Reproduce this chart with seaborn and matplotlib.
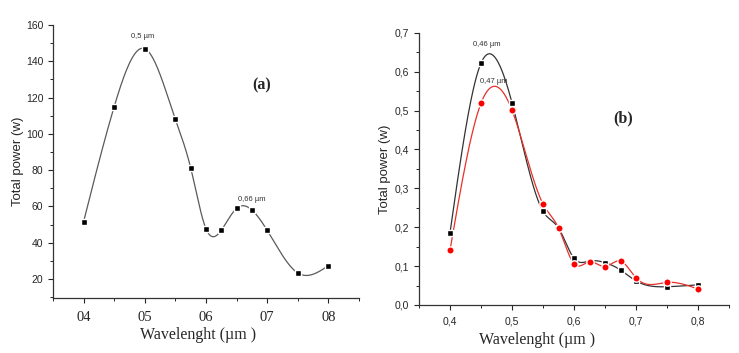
import numpy as np
import pandas as pd
import matplotlib
matplotlib.use("Agg")
import matplotlib.pyplot as plt
from matplotlib.ticker import MultipleLocator, FixedLocator
import seaborn as sns

# Datos
longitud_onda = [0.40, 0.45, 0.50, 0.55, 0.575, 0.60, 0.625, 0.65, 0.675, 0.70, 0.75, 0.80]
potencia_a = [51.5, 115, 147, 108, 81.3, 47.7, 46.8, 58.9, 58.0, 46.8, 23.3, 27.3]
potencia_b_negro = [0.186, 0.622, 0.520, 0.241, 0.198, 0.120, 0.113, 0.109, 0.090, 0.062, 0.047, 0.052]
potencia_b_rojo = [0.141, 0.519, 0.501, 0.260, 0.198, 0.106, 0.111, 0.099, 0.113, 0.070, 0.058, 0.041]

ticks_x_a = [0.4, 0.5, 0.6, 0.7, 0.8]
etiquetas_x_a = ["04", "05", "06", "07", "08"]
ticks_y_a = [20, 40, 60, 80, 100, 120, 140, 160]
ticks_x_b = [0.4, 0.5, 0.6, 0.7, 0.8]
etiquetas_x_b = ["0,4", "0,5", "0,6", "0,7", "0,8"]
ticks_y_b = [0.0, 0.1, 0.2, 0.3, 0.4, 0.5, 0.6, 0.7]
etiquetas_y_b = ["0,0", "0,1", "0,2", "0,3", "0,4", "0,5", "0,6", "0,7"]


# Spline cubico natural para dibujar la curva suave entre los puntos
def spline_natural(x, y, n=400):
    x = np.asarray(x, float)
    y = np.asarray(y, float)
    k = len(x)
    h = np.diff(x)
    A = np.zeros((k, k))
    r = np.zeros(k)
    A[0, 0] = 1
    A[-1, -1] = 1
    for i in range(1, k - 1):
        A[i, i - 1] = h[i - 1]
        A[i, i] = 2 * (h[i - 1] + h[i])
        A[i, i + 1] = h[i]
        r[i] = 6 * ((y[i + 1] - y[i]) / h[i] - (y[i] - y[i - 1]) / h[i - 1])
    m = np.linalg.solve(A, r)
    xs = np.linspace(x[0], x[-1], n)
    idx = np.clip(np.searchsorted(x, xs) - 1, 0, k - 2)
    x0, x1 = x[idx], x[idx + 1]
    hh = x1 - x0
    a = (x1 - xs) / hh
    b = (xs - x0) / hh
    ys = a * y[idx] + b * y[idx + 1] + ((a**3 - a) * m[idx] + (b**3 - b) * m[idx + 1]) * hh**2 / 6
    return pd.DataFrame({"x": xs, "y": ys})


sns.set_style("ticks")
plt.rcParams["font.family"] = ["Liberation Sans", "DejaVu Sans"]
serif = ["Liberation Serif", "DejaVu Serif"]

fig = plt.figure(figsize=(7.39, 3.53), dpi=100)
ax1 = fig.add_axes([0.0717, 0.156, 0.414, 0.773])
ax2 = fig.add_axes([0.567, 0.136, 0.4195, 0.771])

# Panel (a)
df_a = pd.DataFrame({"x": longitud_onda, "y": potencia_a})
sns.lineplot(data=spline_natural(longitud_onda, potencia_a), x="x", y="y",
             ax=ax1, color="#5a5a5a", linewidth=0.9)
sns.scatterplot(data=df_a, x="x", y="y", ax=ax1, marker="s", s=22,
                color="black", edgecolor="white", linewidth=1.0, zorder=3)
ax1.set_xlim(0.35, 0.85)
ax1.set_ylim(9.5, 160)
ax1.xaxis.set_major_locator(FixedLocator(ticks_x_a))
ax1.set_xticklabels(etiquetas_x_a, fontfamily=serif, fontsize=10.5)
ax1.xaxis.set_minor_locator(MultipleLocator(0.05))
ax1.yaxis.set_major_locator(FixedLocator(ticks_y_a))
ax1.yaxis.set_minor_locator(MultipleLocator(10))
ax1.tick_params(axis="y", labelsize=7.5)
ax1.tick_params(axis="x", pad=6)
ax1.text(0.497, 152, "0,5 µm", fontsize=5.5, ha="center", va="bottom", color="#333333")
ax1.text(0.675, 62, "0,66 µm", fontsize=5.5, ha="center", va="bottom", color="#333333")
ax1.text(0.691, 127, "(a)", fontfamily=serif, fontweight="bold", fontsize=11.5,
         ha="center", va="center")
ax1.set_xlabel("Wavelenght (µm )", fontfamily=serif, fontsize=11.5)
ax1.set_ylabel("Total power (w)", fontsize=9.5)
ax1.xaxis.set_label_coords(0.475, -0.105)
ax1.yaxis.set_label_coords(-0.095, 0.5)

# Panel (b)
df_b1 = pd.DataFrame({"x": longitud_onda, "y": potencia_b_negro})
df_b2 = pd.DataFrame({"x": longitud_onda, "y": potencia_b_rojo})
sns.lineplot(data=spline_natural(longitud_onda, potencia_b_negro), x="x", y="y",
             ax=ax2, color="#333333", linewidth=0.9)
sns.lineplot(data=spline_natural(longitud_onda, potencia_b_rojo), x="x", y="y",
             ax=ax2, color="#e8302a", linewidth=0.9)
sns.scatterplot(data=df_b1, x="x", y="y", ax=ax2, marker="s", s=22,
                color="black", edgecolor="white", linewidth=1.0, zorder=3)
sns.scatterplot(data=df_b2, x="x", y="y", ax=ax2, marker="o", s=28,
                color="#ff0000", edgecolor="white", linewidth=1.0, zorder=4)
ax2.set_xlim(0.35, 0.85)
ax2.set_ylim(0, 0.7)
ax2.xaxis.set_major_locator(FixedLocator(ticks_x_b))
ax2.set_xticklabels(etiquetas_x_b, fontsize=7.5)
ax2.xaxis.set_minor_locator(MultipleLocator(0.05))
ax2.yaxis.set_major_locator(FixedLocator(ticks_y_b))
ax2.set_yticklabels(etiquetas_y_b, fontsize=7.5)
ax2.yaxis.set_minor_locator(MultipleLocator(0.05))
ax2.tick_params(axis="x", pad=5)
ax2.text(0.46, 0.66, "0,46 µm", fontsize=5.5, ha="center", va="bottom", color="#333333")
ax2.text(0.47, 0.565, "0,47 µm", fontsize=5.5, ha="center", va="bottom", color="#333333")
ax2.text(0.68, 0.48, "(b)", fontfamily=serif, fontweight="bold", fontsize=11.5,
         ha="center", va="center")
ax2.set_xlabel("Wavelenght (µm )", fontfamily=serif, fontsize=11.5)
ax2.set_ylabel("Total power (w)", fontsize=9.5)
ax2.xaxis.set_label_coords(0.38, -0.1)
ax2.yaxis.set_label_coords(-0.09, 0.5)

for ax in (ax1, ax2):
    sns.despine(ax=ax)
    ax.tick_params(which="major", direction="out", length=3.5, width=0.8)
    ax.tick_params(which="minor", direction="out", length=2, width=0.7)
    for s in ("left", "bottom"):
        ax.spines[s].set_linewidth(0.9)
        ax.spines[s].set_color("#333333")

fig.savefig("out.png", dpi=100)
